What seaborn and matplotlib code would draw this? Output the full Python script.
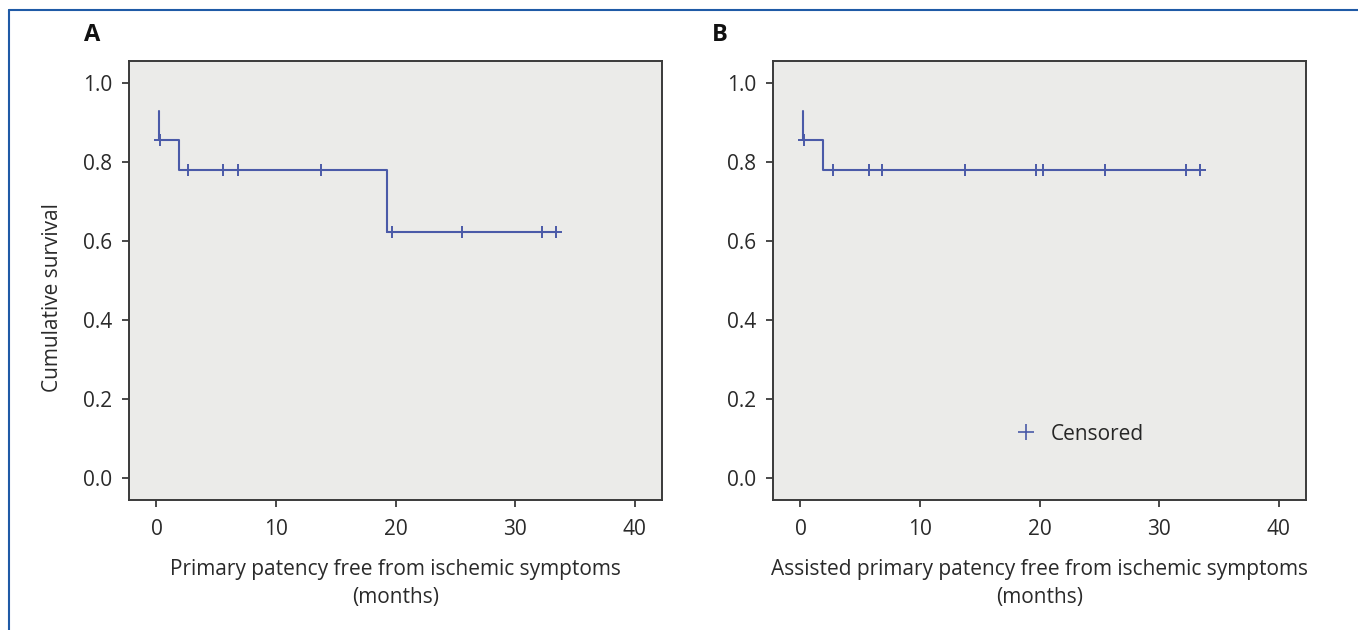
import numpy as np
import pandas as pd
import seaborn as sns
import matplotlib.pyplot as plt
from matplotlib.lines import Line2D

# Kaplan-Meier step curves (time in months, cumulative survival)
step_a_time = [0.2, 0.2, 1.9, 19.3, 33.4]
step_a_surv = [0.929, 0.857, 0.779, 0.623, 0.623]
cens_a_time = [0.3, 2.6, 5.6, 6.8, 13.8, 19.7, 25.6, 32.3, 33.4]
cens_a_surv = [0.857, 0.779, 0.779, 0.779, 0.779, 0.623, 0.623, 0.623, 0.623]

step_b_time = [0.2, 0.2, 1.9, 33.4]
step_b_surv = [0.929, 0.857, 0.779, 0.779]
cens_b_time = [0.3, 2.7, 5.7, 6.8, 13.8, 19.7, 20.3, 25.5, 32.3, 33.4]
cens_b_surv = [0.857, 0.779, 0.779, 0.779, 0.779, 0.779, 0.779, 0.779, 0.779, 0.779]

x_ticks = [0, 10, 20, 30, 40]
y_ticks = [0.0, 0.2, 0.4, 0.6, 0.8, 1.0]
xlabels = ["Primary patency free from ischemic symptoms\n(months)",
           "Assisted primary patency free from ischemic symptoms\n(months)"]

sns.set_style("white")
plt.rcParams['font.family'] = ['Open Sans', 'DejaVu Sans']

line_col = "#4a5aa8"
bg_col = "#ebebe9"
spine_col = "#3a3a3a"
text_col = "#2a2a2a"
fs = 15

fig = plt.figure(figsize=(13.58, 6.30), dpi=100)
W, H = 1358, 630

# outer blue frame (top + left visible)
fig.add_artist(Line2D([9 / W, 1], [1 - 10 / H, 1 - 10 / H], color="#1f5aa6", lw=1.5))
fig.add_artist(Line2D([9 / W, 9 / W], [0, 1 - 10 / H], color="#1f5aa6", lw=1.5))

panels = [
    (129, step_a_time, step_a_surv, cens_a_time, cens_a_surv, xlabels[0], "A", 92),
    (773, step_b_time, step_b_surv, cens_b_time, cens_b_surv, xlabels[1], "B", 720),
]

for i, (left, st, ss, ct, cs, xl, tag, tagx) in enumerate(panels):
    ax = fig.add_axes([left / W, 130 / H, 533 / W, 439 / H])
    ax.set_facecolor(bg_col)
    df_s = pd.DataFrame({"t": st, "s": ss})
    df_c = pd.DataFrame({"t": ct, "s": cs})
    sns.lineplot(data=df_s, x="t", y="s", ax=ax, color=line_col, lw=1.5,
                 drawstyle="steps-post", estimator=None, sort=False)
    sns.scatterplot(data=df_c, x="t", y="s", ax=ax, marker="+", s=70,
                    color=line_col, linewidth=1.4, zorder=3)
    ax.set_xlim(-2.3, 42.3)
    ax.set_ylim(-0.056, 1.056)
    ax.set_xticks(x_ticks)
    ax.set_yticks(y_ticks)
    ax.set_yticklabels([f"{v:.1f}" for v in y_ticks])
    ax.tick_params(axis="both", direction="out", length=5, width=1.3,
                   color=spine_col, labelsize=fs, labelcolor=text_col,
                   left=True, bottom=True)
    ax.tick_params(axis="x", pad=9)
    ax.tick_params(axis="y", pad=7)
    for sp in ax.spines.values():
        sp.set_color(spine_col)
        sp.set_linewidth(1.4)
    ax.set_xlabel(xl, fontsize=fs, color=text_col, labelpad=13, linespacing=1.45)
    if i == 0:
        ax.set_ylabel("Cumulative survival", fontsize=fs, color=text_col)
        # rotated label: coordinate sets its right edge
        ax.yaxis.set_label_coords(-(129 - 63) / 533, (500 - 298) / 439)
    else:
        ax.set_ylabel("")
        h = Line2D([], [], color=line_col, marker="+", linestyle="", markersize=11,
                   markeredgewidth=1.2)
        ax.legend([h], ["Censored"], loc="center left", bbox_to_anchor=(0.40, 0.15),
                  frameon=False, fontsize=fs, handletextpad=0.2)
    fig.text(tagx / W, 1 - 35 / H, tag, fontsize=17, fontweight="bold",
             ha="center", va="center", color="#111111")

fig.savefig("out.png", dpi=100)
